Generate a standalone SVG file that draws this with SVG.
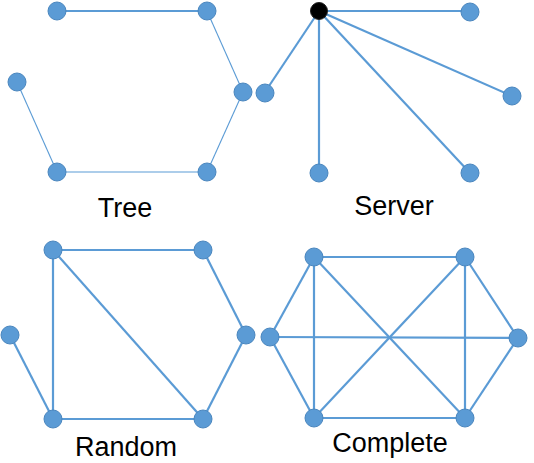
<svg xmlns="http://www.w3.org/2000/svg" width="534" height="463" viewBox="0 0 534 463">
<style>
.n{fill:#5B9BD5;stroke:#4A86BE;stroke-width:1}
.hub{fill:#000;stroke:#222;stroke-width:1}
.e{stroke:#5B9BD5;fill:none;stroke-width:2.2}
.t{stroke:#5B9BD5;fill:none;stroke-width:1.1}
.lbl{font-family:"Liberation Sans",Arial,sans-serif;font-size:27px;fill:#000;text-anchor:middle}
</style>
<rect width="534" height="463" fill="#fff"/>
<g id="connectors">
<line class="e" x1="57" y1="11" x2="207" y2="11"/>
<line class="t" x1="207" y1="11" x2="243" y2="92"/>
<line class="t" x1="243" y1="92" x2="207" y2="172"/>
<line class="t" x1="57" y1="172" x2="207" y2="172" stroke-width="1.3"/>
<line class="t" x1="17" y1="82" x2="57" y2="172"/>
<line class="e" x1="319" y1="11" x2="470" y2="11"/>
<line class="e" x1="319" y1="11" x2="265" y2="92"/>
<line class="e" x1="319" y1="11" x2="512" y2="96"/>
<line class="e" x1="319" y1="11" x2="319" y2="173"/>
<line class="e" x1="319" y1="11" x2="470" y2="173"/>
<line class="e" x1="53" y1="250" x2="203" y2="250"/>
<line class="e" x1="53" y1="250" x2="53" y2="419"/>
<line class="e" x1="53" y1="250" x2="203" y2="419"/>
<line class="e" x1="203" y1="250" x2="246" y2="335"/>
<line class="e" x1="246" y1="335" x2="203" y2="419"/>
<line class="e" x1="53" y1="419" x2="203" y2="419"/>
<line class="e" x1="10" y1="335" x2="53" y2="419"/>
<line class="e" x1="314" y1="257" x2="465" y2="257"/>
<line class="e" x1="314" y1="257" x2="270" y2="337"/>
<line class="e" x1="314" y1="257" x2="314" y2="418"/>
<line class="e" x1="314" y1="257" x2="465" y2="418"/>
<line class="e" x1="465" y1="257" x2="518" y2="338"/>
<line class="e" x1="465" y1="257" x2="465" y2="418"/>
<line class="e" x1="465" y1="257" x2="314" y2="418"/>
<line class="e" x1="270" y1="337" x2="518" y2="338"/>
<line class="e" x1="270" y1="337" x2="314" y2="418"/>
<line class="e" x1="314" y1="418" x2="465" y2="418"/>
<line class="e" x1="518" y1="338" x2="465" y2="418"/>
</g>
<g id="tree">
<circle id="tree-a" class="n" cx="57" cy="11" r="9"/>
<circle id="tree-b" class="n" cx="207" cy="11" r="9"/>
<circle id="tree-c" class="n" cx="17" cy="82" r="9"/>
<circle id="tree-d" class="n" cx="243" cy="92" r="9"/>
<circle id="tree-e" class="n" cx="57" cy="172" r="9"/>
<circle id="tree-f" class="n" cx="207" cy="172" r="9"/>
<text id="tree-label" class="lbl" x="125" y="217">Tree</text>
</g>
<g id="server">
<circle id="server-hub" class="hub" cx="319" cy="11" r="8.5"/>
<circle id="server-1" class="n" cx="470" cy="12" r="9"/>
<circle id="server-2" class="n" cx="265" cy="93" r="9"/>
<circle id="server-3" class="n" cx="512" cy="96" r="9"/>
<circle id="server-4" class="n" cx="319" cy="173" r="9"/>
<circle id="server-5" class="n" cx="470" cy="173" r="9"/>
<text id="server-label" class="lbl" x="394" y="215">Server</text>
</g>
<g id="random">
<circle id="random-1" class="n" cx="53" cy="250" r="9"/>
<circle id="random-2" class="n" cx="203" cy="250" r="9"/>
<circle id="random-3" class="n" cx="10" cy="335" r="9"/>
<circle id="random-4" class="n" cx="246" cy="335" r="9"/>
<circle id="random-5" class="n" cx="53" cy="419" r="9"/>
<circle id="random-6" class="n" cx="203" cy="419" r="9"/>
<text id="random-label" class="lbl" x="126" y="456">Random</text>
</g>
<g id="complete">
<circle id="complete-1" class="n" cx="314" cy="257" r="9"/>
<circle id="complete-2" class="n" cx="465" cy="257" r="9"/>
<circle id="complete-3" class="n" cx="270" cy="337" r="9"/>
<circle id="complete-4" class="n" cx="518" cy="338" r="9"/>
<circle id="complete-5" class="n" cx="314" cy="418" r="9"/>
<circle id="complete-6" class="n" cx="465" cy="418" r="9"/>
<text id="complete-label" class="lbl" x="390" y="452">Complete</text>
</g>
</svg>
